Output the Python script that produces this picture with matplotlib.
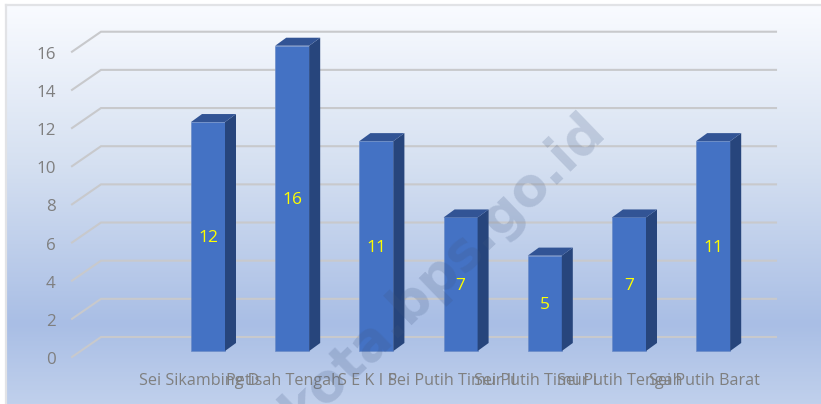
import matplotlib
matplotlib.use("Agg")
import matplotlib.pyplot as plt
from matplotlib.colors import LinearSegmentedColormap
from matplotlib.patches import Polygon
import numpy as np

categories = ["Sei Sikambing D", "Petisah Tengah", "S E K I P", "Sei Putih Timur II",
              "Sei Putih Timur I", "Sei Putih Tengah", "Sei Putih Barat"]
values = [12, 16, 11, 7, 5, 7, 11]
y_ticks = [0, 2, 4, 6, 8, 10, 12, 14, 16]

W, H = 821, 404
plt.rcParams["font.family"] = ["Open Sans", "DejaVu Sans"]

fig = plt.figure(figsize=(W / 100, H / 100), dpi=100, facecolor="white")

# background gradient inside the light frame
bg = fig.add_axes([6 / W, 0, 1 - 6 / W, 1 - 5 / H], zorder=0)
cmap = LinearSegmentedColormap.from_list("bg", [(0, "#f9fbff"), (0.4, "#d5e0f1"), (0.8, "#a9bee5"), (1, "#c0d0ec")])
bg.imshow(np.linspace(0, 1, 256).reshape(-1, 1), cmap=cmap, aspect="auto")
bg.set_xticks([])
bg.set_yticks([])
for side in ["right", "bottom"]:
    bg.spines[side].set_visible(False)
for side in ["left", "top"]:
    bg.spines[side].set_color("#e2e3e6")
    bg.spines[side].set_linewidth(1.6)

# axes where x=category index, y=value at the front of the bars
x0_px, step_px = 208.0, 84.2
y0_px, unit_px = 351.0, 19.08
ax = fig.add_axes([0, 0, 1, 1], zorder=1)
ax.patch.set_alpha(0)
ax.axis("off")
ax.set_xlim(-x0_px / step_px, (W - x0_px) / step_px)
ax.set_ylim(-(H - y0_px) / unit_px, y0_px / unit_px)

px_x = 1 / step_px
px_y = 1 / unit_px

# gridlines with the slanted bit on the side wall
left_front = (72 - x0_px) * px_x
left_back = (101 - x0_px) * px_x
right_back = (776 - x0_px) * px_x
for v in y_ticks:
    yf = v - 6 * px_y
    yb = v + 14 * px_y
    ax.plot([left_front, left_back, right_back], [yf, yb, yb], color="#c8c9cc", lw=1.5,
            solid_joinstyle="miter", zorder=2)
    ax.text((55.5 - x0_px) * px_x, v - 9 * px_y, str(v), ha="right", va="center", fontsize=12.2,
            color="#7f7f7f", zorder=3)

# bars
bar_w = 34 * px_x
dep_x = 11 * px_x
dep_y = 8 * px_y
for i, v in enumerate(values):
    l, r = i - bar_w / 2, i + bar_w / 2
    ax.bar(i, v, width=bar_w, color="#4472c4", edgecolor="#6b8cc8", lw=0.5, zorder=4)
    ax.add_patch(Polygon([(r, 0), (r + dep_x, dep_y), (r + dep_x, v + dep_y), (r, v)],
                         facecolor="#27457c", edgecolor="none", zorder=4))
    ax.add_patch(Polygon([(l, v), (r, v), (r + dep_x, v + dep_y), (l + dep_x, v + dep_y)],
                         facecolor="#325495", edgecolor="none", zorder=4))
    ax.text(i, v / 2 - 0.1, str(v), ha="center", va="center", fontsize=12.5, color="#ffff00", zorder=6)
    ax.text(i - 9 * px_x, -(381 - y0_px) * px_y, categories[i], ha="center", va="center", fontsize=11.6,
            color="#7f7f7f", zorder=5)

# watermark, runs off the bottom edge
fig.text(607 / W, 1 - 132 / H, "kota.bps.go.id", fontsize=38, fontweight="bold", family="DejaVu Sans",
         rotation=44, rotation_mode="anchor", ha="right", va="baseline", color="#3f5680", alpha=0.2, zorder=7)

fig.savefig("out.png", dpi=100)
